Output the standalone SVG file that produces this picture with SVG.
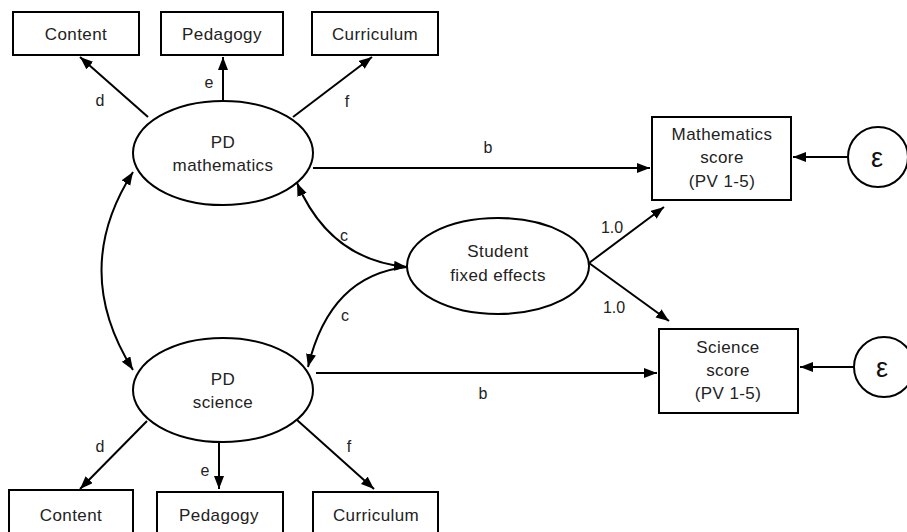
<svg xmlns="http://www.w3.org/2000/svg" width="907" height="532" viewBox="0 0 907 532">
<defs>
<marker id="ah" markerUnits="userSpaceOnUse" markerWidth="14" markerHeight="11" refX="13" refY="5" orient="auto-start-reverse">
<path d="M0,0 L13,5 L0,10 z" fill="#000"/>
</marker>
<style>
.box{fill:#fff;stroke:#000;stroke-width:2}
.t{font-family:"Liberation Sans",Arial,sans-serif;font-size:17px;fill:#222;text-anchor:middle;letter-spacing:0.4px}
.l{font-family:"Liberation Sans",Arial,sans-serif;font-size:16px;fill:#222;text-anchor:middle}
.e{font-family:"Liberation Sans",Arial,sans-serif;font-size:27px;fill:#111;text-anchor:middle}
.a{fill:none;stroke:#000;stroke-width:2;marker-end:url(#ah)}
.ab{fill:none;stroke:#000;stroke-width:2;marker-end:url(#ah);marker-start:url(#ah)}
</style>
</defs>
<rect width="907" height="532" fill="#fff"/>
<g id="connectors">
<line class="a" x1="148" y1="117" x2="80" y2="57"/>
<line class="a" x1="223" y1="100" x2="223" y2="57"/>
<line class="a" x1="293" y1="117" x2="372" y2="57"/>
<line class="a" x1="313" y1="168" x2="650" y2="168"/>
<line class="a" x1="848" y1="157" x2="793" y2="157"/>
<line class="a" x1="854" y1="367" x2="800" y2="367"/>
<line class="a" x1="589" y1="263" x2="664" y2="207"/>
<line class="a" x1="589" y1="263" x2="669" y2="321"/>
<line class="a" x1="316" y1="373" x2="657" y2="373"/>
<line class="a" x1="147" y1="421" x2="80" y2="489"/>
<line class="a" x1="219" y1="442" x2="219" y2="489"/>
<line class="a" x1="297" y1="420" x2="374" y2="489"/>
<path class="ab" d="M133,172 Q70,270 133,370"/>
<path class="ab" d="M297,183 Q330,260 407,267"/>
<path class="a" d="M407,267 Q330,275 308,367"/>
<text class="l" x="100" y="106">d</text>
<text class="l" x="209" y="88">e</text>
<text class="l" x="347" y="107">f</text>
<text class="l" x="488" y="153">b</text>
<text class="l" x="344" y="241">c</text>
<text class="l" x="345" y="321">c</text>
<text class="l" x="612" y="233">1.0</text>
<text class="l" x="614" y="313">1.0</text>
<text class="l" x="483" y="399">b</text>
<text class="l" x="100" y="452">d</text>
<text class="l" x="205" y="476">e</text>
<text class="l" x="349" y="452">f</text>
</g>
<g id="content-top"><rect class="box" x="13" y="12" width="126" height="43"/><text class="t" x="76" y="40">Content</text></g>
<g id="pedagogy-top"><rect class="box" x="161" y="12" width="122" height="43"/><text class="t" x="222" y="40">Pedagogy</text></g>
<g id="curriculum-top"><rect class="box" x="312" y="12" width="126" height="43"/><text class="t" x="375" y="40">Curriculum</text></g>
<g id="pd-math"><ellipse class="box" cx="223" cy="153" rx="90" ry="52"/><text class="t" x="223" y="148">PD</text><text class="t" x="223" y="171">mathematics</text></g>
<g id="pd-science"><ellipse class="box" cx="223" cy="390" rx="90" ry="52"/><text class="t" x="223" y="385">PD</text><text class="t" x="223" y="408">science</text></g>
<g id="student"><ellipse class="box" cx="498" cy="266" rx="91" ry="48"/><text class="t" x="498" y="257">Student</text><text class="t" x="498" y="281">fixed effects</text></g>
<g id="math-score"><rect class="box" x="652" y="117" width="139" height="83"/><text class="t" x="722" y="140">Mathematics</text><text class="t" x="722" y="163">score</text><text class="t" x="722" y="187">(PV 1-5)</text></g>
<g id="sci-score"><rect class="box" x="659" y="329" width="139" height="84"/><text class="t" x="728" y="353">Science</text><text class="t" x="728" y="376">score</text><text class="t" x="728" y="399">(PV 1-5)</text></g>
<g id="eps-math"><circle class="box" cx="878" cy="157" r="30"/><text class="e" x="877" y="167">ε</text></g>
<g id="eps-sci"><circle class="box" cx="884" cy="367" r="30"/><text class="e" x="882" y="377">ε</text></g>
<g id="content-bottom"><rect class="box" x="9" y="490" width="124" height="50"/><text class="t" x="71" y="521">Content</text></g>
<g id="pedagogy-bottom"><rect class="box" x="157" y="492" width="126" height="50"/><text class="t" x="219" y="521">Pedagogy</text></g>
<g id="curriculum-bottom"><rect class="box" x="313" y="492" width="125" height="50"/><text class="t" x="376" y="521">Curriculum</text></g>
</svg>
